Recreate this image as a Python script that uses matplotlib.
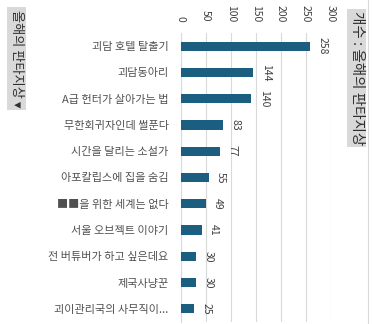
import matplotlib
matplotlib.use("Agg")
import matplotlib.pyplot as plt

plt.rcParams['font.family'] = ['Noto Sans CJK KR', 'DejaVu Sans']

categories = ["괴담 호텔 탈출기", "괴담동아리", "A급 헌터가 살아가는 법", "무한회귀자인데 썰푼다",
              "시간을 달리는 소설가", "아포칼립스에 집을 숨김", "■■을 위한 세계는 없다",
              "서울 오브젝트 이야기", "전 버튜버가 하고 싶은데요", "제국사냥꾼", "괴이관리국의 사무직이..."]
values = [258, 144, 140, 83, 77, 55, 49, 41, 30, 30, 25]
xticks = [0, 50, 100, 150, 200, 250, 300]
title_left = "올해의 판타지상 ▾"
title_right = "개수 : 올해의 판타지상"

fig = plt.figure(figsize=(3.72, 3.24), dpi=100)
ax = fig.add_axes([181/372, 2/324, 150/372, 289/324])

ypos = list(range(len(categories)))
ax.barh(ypos, values, height=0.35, color='#1b5e80', zorder=3)
ax.set_ylim(len(categories) - 0.5, -0.5)
ax.set_xlim(0, 300)
ax.set_xticks(xticks)
ax.xaxis.tick_top()
ax.tick_params(axis='x', length=0, pad=8, labelsize=7.5, labelcolor='#404040')
for lab in ax.get_xticklabels():
    lab.set_rotation(-90)
ax.set_yticks(ypos)
ax.set_yticklabels(categories, fontsize=8, color='#505050')
ax.tick_params(axis='y', length=0, pad=9)
ax.grid(axis='x', color='#d9d9d9', linewidth=0.8, zorder=0)
for s in ['top', 'right', 'bottom']:
    ax.spines[s].set_visible(False)
ax.spines['left'].set_color('#d9d9d9')

for y, v in zip(ypos, values):
    ax.annotate(str(v), xy=(v, y), xytext=(5.5, 0), textcoords='offset points',
                ha='left', va='center', rotation=-90, fontsize=7.5, color='#404040')

fig.text(16.5/372, 1 - 10/324, title_left, rotation=-90, ha='center', va='top', fontsize=9.5,
         color='#303030', bbox=dict(boxstyle='square,pad=0.2', fc='#d9d9d9', ec='none'))
fig.text(356.5/372, 1 - 11/324, title_right, rotation=-90, ha='center', va='top', fontsize=10.5,
         color='#303030', bbox=dict(boxstyle='square,pad=0.15', fc='#d9d9d9', ec='none'))
fig.add_artist(plt.Line2D([368/372, 368/372], [0, 1], color='#d9d9d9', linewidth=0.8))

fig.savefig("out.png", dpi=100)
